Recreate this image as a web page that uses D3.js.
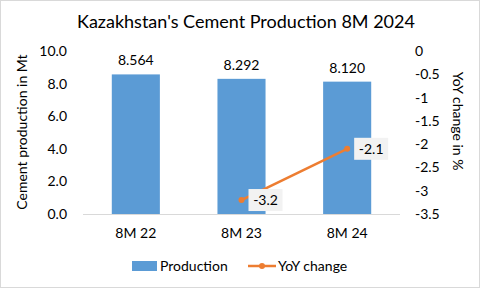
<!DOCTYPE html>
<html>
<head>
<meta charset="utf-8">
<script src="https://cdn.jsdelivr.net/npm/d3@7"></script>
<style>
  body { margin: 0; background: #fff; }
  svg text { font-family: Lato, "Open Sans", sans-serif; fill: #000; }
</style>
</head>
<body>
<svg id="chart" width="480" height="288"></svg>
<script>
// Kazakhstan cement production, bars + YoY line

const categories = ["8M 22", "8M 23", "8M 24"];
const production = [8.564, 8.292, 8.120];
const yoyChange = [null, -3.2, -2.1];
const leftTicks = [0, 2, 4, 6, 8, 10];
const rightTicks = [0, -0.5, -1, -1.5, -2, -2.5, -3, -3.5];

const width = 480;
const height = 288;
const margin = { top: 51, right: 80, bottom: 74, left: 83 };
const fs = "14px";

const svg = d3.select("#chart");

// outer frame
svg.append("rect")
  .attr("x", 0.5).attr("y", 0.5)
  .attr("width", width - 1).attr("height", height - 1)
  .attr("fill", "#fff")
  .attr("stroke", "#d9d9d9");

const x = d3.scaleBand()
  .domain(categories)
  .range([margin.left, width - margin.right])
  .paddingInner(0.545)
  .paddingOuter(0.2725);

const yLeft = d3.scaleLinear()
  .domain([0, 10])
  .range([height - margin.bottom, margin.top]);

const yRight = d3.scaleLinear()
  .domain([-3.5, 0])
  .range([height - margin.bottom, margin.top]);

// title
svg.append("text")
  .attr("x", 246).attr("y", 28)
  .attr("text-anchor", "middle")
  .style("font-size", "18px")
  .text("Kazakhstan's Cement Production 8M 2024");

// bars
svg.append("g")
  .selectAll("rect")
  .data(production)
  .join("rect")
  .attr("x", (d, i) => x(categories[i]))
  .attr("y", (d) => yLeft(d))
  .attr("width", x.bandwidth())
  .attr("height", (d) => yLeft(0) - yLeft(d))
  .attr("fill", "#5b9bd5");

// bar value labels
svg.append("g")
  .selectAll("text")
  .data(production)
  .join("text")
  .attr("x", (d, i) => x(categories[i]) + x.bandwidth() / 2)
  .attr("y", (d) => yLeft(d) - 9)
  .attr("text-anchor", "middle")
  .style("font-size", fs)
  .text((d) => d.toFixed(3));

// baseline
svg.append("line")
  .attr("x1", margin.left).attr("x2", width - margin.right)
  .attr("y1", yLeft(0) + 0.5).attr("y2", yLeft(0) + 0.5)
  .attr("stroke", "#d9d9d9");

// left axis
const leftAxis = svg.append("g")
  .attr("transform", `translate(${margin.left - 16},0)`)
  .call(d3.axisLeft(yLeft).tickValues(leftTicks).tickFormat(d3.format(".1f")).tickSize(0).tickPadding(0));
leftAxis.select(".domain").remove();
leftAxis.selectAll("text").style("font-size", fs).attr("font-family", null);

// right axis
const rightAxis = svg.append("g")
  .attr("transform", `translate(${width - margin.right + 15},0)`)
  .call(d3.axisRight(yRight).tickValues(rightTicks).tickSize(0).tickPadding(0));
rightAxis.select(".domain").remove();
rightAxis.selectAll("text").style("font-size", fs).attr("font-family", null)
  .text((d) => String(d));

// category axis
const catAxis = svg.append("g")
  .attr("transform", `translate(0,${yLeft(0)})`)
  .call(d3.axisBottom(x).tickSize(0).tickPadding(14));
catAxis.select(".domain").remove();
catAxis.selectAll("text").style("font-size", fs).attr("font-family", null);

// axis titles
svg.append("text")
  .attr("transform", `translate(27,132) rotate(-90)`)
  .attr("text-anchor", "middle")
  .style("font-size", fs)
  .text("Cement production  in Mt");

svg.append("text")
  .attr("transform", `translate(453,121) rotate(90)`)
  .attr("text-anchor", "middle")
  .style("font-size", fs)
  .text("YoY change in %");

// YoY line
const linePts = categories
  .map((c, i) => ({ c, v: yoyChange[i] }))
  .filter((d) => d.v !== null);

const line = d3.line()
  .x((d) => x(d.c) + x.bandwidth() / 2)
  .y((d) => yRight(d.v));

svg.append("path")
  .datum(linePts)
  .attr("d", line)
  .attr("fill", "none")
  .attr("stroke", "#ed7d31")
  .attr("stroke-width", 2.5);

svg.append("g")
  .selectAll("circle")
  .data(linePts)
  .join("circle")
  .attr("cx", (d) => x(d.c) + x.bandwidth() / 2)
  .attr("cy", (d) => yRight(d.v))
  .attr("r", 3)
  .attr("fill", "#ed7d31");

// YoY labels with light box
const yoyLabels = svg.append("g")
  .selectAll("g")
  .data(linePts)
  .join("g")
  .attr("transform", (d) => `translate(${x(d.c) + x.bandwidth() / 2 + 7},${yRight(d.v)})`);

yoyLabels.append("rect")
  .attr("x", 0).attr("y", -11)
  .attr("width", 34).attr("height", 22)
  .attr("fill", "#f2f2f2");

yoyLabels.append("text")
  .attr("x", 17).attr("y", 5)
  .attr("text-anchor", "middle")
  .style("font-size", fs)
  .text((d) => d.v.toFixed(1));

// legend
const legend = svg.append("g");
legend.append("rect")
  .attr("x", 132).attr("y", 261)
  .attr("width", 25).attr("height", 10)
  .attr("fill", "#5b9bd5");
legend.append("text")
  .attr("x", 160).attr("y", 271)
  .style("font-size", fs)
  .text("Production");
legend.append("line")
  .attr("x1", 248).attr("x2", 276)
  .attr("y1", 266).attr("y2", 266)
  .attr("stroke", "#ed7d31")
  .attr("stroke-width", 2.5);
legend.append("circle")
  .attr("cx", 262).attr("cy", 266).attr("r", 3)
  .attr("fill", "#ed7d31");
legend.append("text")
  .attr("x", 278).attr("y", 271)
  .style("font-size", fs)
  .text("YoY change");
</script>
</body>
</html>
